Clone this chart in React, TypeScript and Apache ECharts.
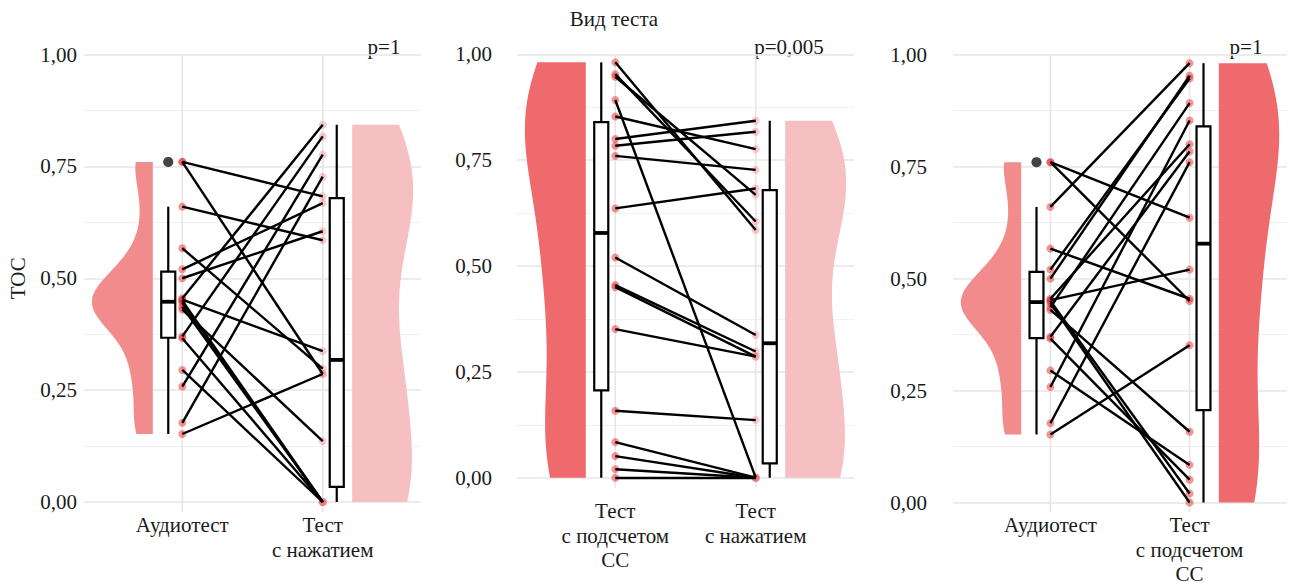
import React, { useEffect, useRef } from 'react';
import * as echarts from 'echarts';

// Paired scores per subject
const audio = [0.66, 0.5, 0.52, 0.436, 0.258, 0.455, 0.37, 0.177, 0.76, 0.452, 0.567, 0.76, 0.152, 0.43, 0.295, 0.366, 0.45, 0.445];
const counting = [0.981, 0.953, 0.947, 0.892, 0.853, 0.8, 0.784, 0.76, 0.636, 0.52, 0.455, 0.45, 0.351, 0.158, 0.084, 0.051, 0.02, 0.0];
const pressing = [0.585, 0.605, 0.668, 0.0, 0.776, 0.843, 0.817, 0.727, 0.683, 0.337, 0.298, 0.286, 0.286, 0.136, 0.0, 0.0, 0.0, 0.0];

const labelAudio = 'Аудиотест';
const labelPress = 'Тест\nс нажатием';
const labelCount = 'Тест\nс подсчетом\nСС';
const pValues = ['p=1', 'p=0,005', 'p=1'];
const yTitle = 'ТОС';
const facetTitle = 'Вид теста';

const FONT = "'Liberation Serif', 'Times New Roman', serif";
const TEXT = '#1a1a1a';

const violinColor: Record<string, string> = {
  audio: '#F28C8C',
  counting: '#EF6A6C',
  pressing: '#F6BFC1',
};
const pointColor: Record<string, string> = {
  audio: 'rgba(232,42,46,0.62)',
  counting: 'rgba(232,42,46,0.62)',
  pressing: 'rgba(240,105,110,0.42)',
};

const panels = [
  { left: audio, right: pressing, lk: 'audio', rk: 'pressing', labels: [labelAudio, labelPress],
    grid: { left: 84, top: 54.5, width: 337, height: 447.5 }, tickMargin: 7, labelOffset: 11 },
  { left: counting, right: pressing, lk: 'counting', rk: 'pressing', labels: [labelCount, labelPress],
    grid: { left: 517, top: 54.3, width: 337, height: 423.4 }, tickMargin: 25, labelOffset: 21.5 },
  { left: audio, right: counting, lk: 'audio', rk: 'counting', labels: [labelAudio, labelCount],
    grid: { left: 953, top: 54.7, width: 334, height: 447.8 }, tickMargin: 26, labelOffset: 10.5 },
];

function q7(sorted: number[], p: number) {
  const n = sorted.length;
  const h = (n - 1) * p;
  const lo = Math.floor(h);
  const hi = Math.min(lo + 1, n - 1);
  return sorted[lo] + (h - lo) * (sorted[hi] - sorted[lo]);
}

function boxStats(vals: number[]) {
  const s = [...vals].sort((a, b) => a - b);
  const q1 = q7(s, 0.25), med = q7(s, 0.5), q3 = q7(s, 0.75);
  const iqr = q3 - q1;
  const inside = s.filter((v) => v >= q1 - 1.5 * iqr && v <= q3 + 1.5 * iqr);
  const outliers = s.filter((v) => v < q1 - 1.5 * iqr || v > q3 + 1.5 * iqr);
  return { lo: inside[0], q1, med, q3, hi: inside[inside.length - 1], outliers };
}

function violinPoly(vals: number[], base: number, dir: number, W: number) {
  const s = [...vals].sort((a, b) => a - b);
  const n = s.length;
  const mean = s.reduce((a, b) => a + b, 0) / n;
  const sd = Math.sqrt(s.reduce((a, b) => a + (b - mean) ** 2, 0) / (n - 1));
  const iqr = q7(s, 0.75) - q7(s, 0.25);
  const bw = 0.9 * Math.min(sd, iqr / 1.34) * Math.pow(n, -0.2);
  const lo = s[0], hi = s[n - 1];
  const N = 200;
  const ys: number[] = [], ds: number[] = [];
  for (let i = 0; i <= N; i++) {
    const y = lo + ((hi - lo) * i) / N;
    let d = 0;
    for (const v of s) d += Math.exp(-0.5 * ((y - v) / bw) ** 2);
    ys.push(y); ds.push(d);
  }
  const dmax = Math.max(...ds);
  const pts: number[][] = [[base, lo]];
  for (let i = 0; i <= N; i++) pts.push([base + dir * W * (ds[i] / dmax), ys[i]]);
  pts.push([base, hi]);
  return pts;
}

function buildOption() {
  const grid: any[] = [], xAxis: any[] = [], yAxis: any[] = [], series: any[] = [];
  panels.forEach((p, gi) => {
    grid.push({ ...p.grid, containLabel: false });
    xAxis.push({ type: 'value', gridIndex: gi, min: 0.3, max: 2.7, show: false });
    yAxis.push({
      type: 'value', gridIndex: gi, min: 0, max: 1, interval: 0.25,
      axisLine: { show: false }, axisTick: { show: false },
      axisLabel: { margin: p.tickMargin, fontFamily: FONT, fontSize: 21, color: TEXT,
        formatter: (v: number) => v.toFixed(2).replace('.', ',') },
      splitLine: { show: true, lineStyle: { color: '#e6e6e6', width: 1.6 } },
      minorTick: { show: false, splitNumber: 2 },
      minorSplitLine: { show: true, lineStyle: { color: '#f1f1f1', width: 1.2 } },
      ...(gi === 0 ? { name: yTitle, nameLocation: 'middle', nameGap: 56, nameRotate: 90,
        nameTextStyle: { fontFamily: FONT, fontSize: 21, color: TEXT } } : {}),
    });
    const ax = { xAxisIndex: gi, yAxisIndex: gi };

    // vertical grid lines at the categories
    series.push({
      type: 'custom', ...ax, z: 0, silent: true, clip: false, data: [[1, 0], [2, 0]],
      renderItem: (_: any, api: any) => {
        const t = api.coord([api.value(0), 1]);
        const b = api.coord([api.value(0), 0]);
        return { type: 'line', shape: { x1: t[0], y1: t[1], x2: b[0], y2: b[1] + 10 },
          style: { stroke: '#e6e6e6', lineWidth: 1.6 } };
      },
    });

    // half violins
    const vL = violinPoly(p.left, 1 - 0.21, -1, 0.434);
    const vR = violinPoly(p.right, 2 + 0.21, 1, 0.434);
    [[vL, p.lk], [vR, p.rk]].forEach(([poly, key]: any) => {
      series.push({
        type: 'custom', ...ax, z: 1, silent: true, clip: false, data: [[1, 0.5]],
        renderItem: (_: any, api: any) => ({
          type: 'polygon', shape: { points: poly.map((pt: number[]) => api.coord(pt)) },
          style: { fill: violinColor[key] },
        }),
      });
    });

    // boxplots
    [[p.left, 1 - 0.1], [p.right, 2 + 0.1]].forEach(([vals, c]: any) => {
      const st = boxStats(vals);
      series.push({
        type: 'custom', ...ax, z: 2, silent: true, clip: false, data: [[c, st.med]],
        renderItem: (_: any, api: any) => {
          const hw = 0.05;
          const a = api.coord([c - hw, st.q3]);
          const b = api.coord([c + hw, st.q1]);
          const m = api.coord([c, st.med]);
          const lo = api.coord([c, st.lo]);
          const hi = api.coord([c, st.hi]);
          const ls = { stroke: '#000', lineWidth: 2.2 };
          return { type: 'group', children: [
            { type: 'line', shape: { x1: m[0], y1: hi[1], x2: m[0], y2: a[1] }, style: ls },
            { type: 'line', shape: { x1: m[0], y1: b[1], x2: m[0], y2: lo[1] }, style: ls },
            { type: 'rect', shape: { x: a[0], y: a[1], width: b[0] - a[0], height: b[1] - a[1] },
              style: { fill: '#fff', stroke: '#000', lineWidth: 2.2 } },
            { type: 'line', shape: { x1: a[0], y1: m[1], x2: b[0], y2: m[1] }, style: { stroke: '#000', lineWidth: 3.8 } },
          ] };
        },
      });
      if (st.outliers.length) {
        series.push({
          type: 'scatter', ...ax, z: 3, silent: true, clip: false, symbolSize: 10,
          itemStyle: { color: 'rgba(45,45,45,0.85)' },
          data: st.outliers.map((v) => [c, v]),
        });
      }
    });

    // points
    series.push({
      type: 'scatter', ...ax, z: 3, silent: true, clip: false, symbolSize: 8,
      itemStyle: { color: pointColor[p.lk] }, data: p.left.map((v) => [1, v]),
    });
    series.push({
      type: 'scatter', ...ax, z: 3, silent: true, clip: false, symbolSize: 8,
      itemStyle: { color: pointColor[p.rk] }, data: p.right.map((v) => [2, v]),
    });

    // paired lines
    series.push({
      type: 'lines', coordinateSystem: 'cartesian2d', ...ax, z: 4, silent: true, clip: false,
      lineStyle: { color: '#000', width: 2.4, opacity: 1, curveness: 0 },
      data: p.left.map((v, i) => ({ coords: [[1, v], [2, p.right[i]]] })),
    });

    // category labels below the panel
    series.push({
      type: 'custom', ...ax, z: 5, silent: true, clip: false, data: [[1, 0], [2, 0]],
      renderItem: (params: any, api: any) => {
        const pt = api.coord([api.value(0), 0]);
        return { type: 'text', x: pt[0], y: pt[1] + p.labelOffset,
          style: { text: p.labels[params.dataIndex], fill: TEXT, fontFamily: FONT, fontSize: 21,
            align: 'center', verticalAlign: 'top', lineHeight: 24.5 } };
      },
    });
  });

  const tx = (text: string, x: number, y: number) => ({
    type: 'text', x, y,
    style: { text, fill: TEXT, fontFamily: FONT, fontSize: 21, align: 'center', verticalAlign: 'middle' },
  });
  const graphic = [
    tx(facetTitle, 614, 18.5),
    tx(pValues[0], 384, 47),
    tx(pValues[1], 789, 47),
    tx(pValues[2], 1246, 47),
  ];

  return { animation: false, backgroundColor: '#fff', grid, xAxis, yAxis, series, graphic };
}

export default function App() {
  const ref = useRef<HTMLDivElement>(null);
  useEffect(() => {
    if (!ref.current) return;
    const chart = echarts.init(ref.current, undefined, { renderer: 'svg' });
    chart.setOption(buildOption() as any);
    return () => chart.dispose();
  }, []);
  return <div ref={ref} style={{ position: 'fixed', left: 0, top: 0, width: 1296, height: 584 }} />;
}
